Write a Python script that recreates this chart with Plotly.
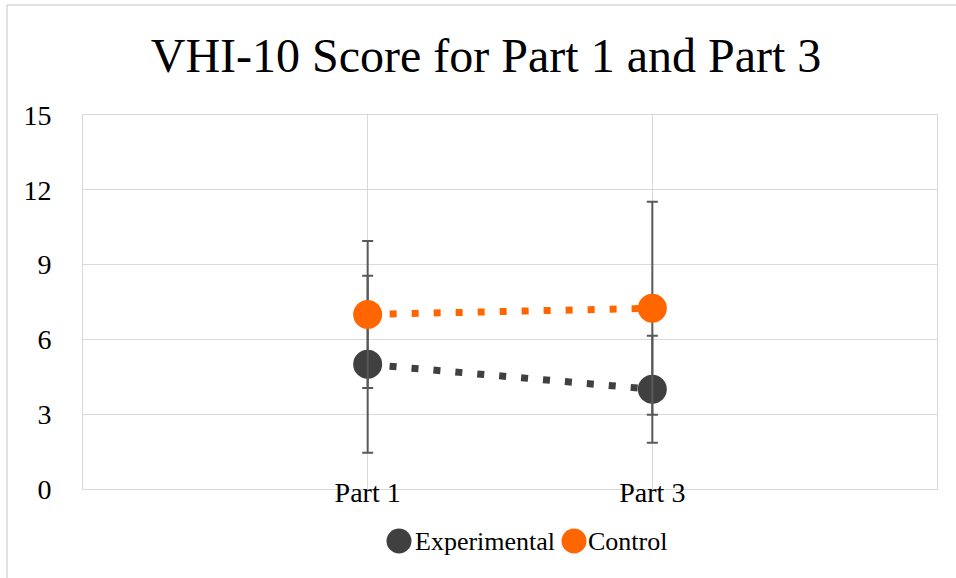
import plotly.graph_objects as go

# ---- data ----
categories = ["Part 1", "Part 3"]
experimental = [5.0, 4.0]
experimental_sd = [3.55, 2.15]
control = [7.0, 7.25]
control_sd = [2.95, 4.27]
y_ticks = [0, 3, 6, 9, 12, 15]
series_names = ["Experimental", "Control"]

DARK = "#404040"
ORANGE = "#FF6600"
ERR = "#595959"
GRID = "#D9D9D9"
FONT = "Liberation Serif"

fig = go.Figure()

for name, vals, sd, col in [
    (series_names[0], experimental, experimental_sd, DARK),
    (series_names[1], control, control_sd, ORANGE),
]:
    fig.add_trace(go.Scatter(
        x=categories, y=vals, name=name, mode="lines+markers",
        line=dict(color=col, width=7, dash="7px,15px"),
        marker=dict(color=col, size=29),
        error_y=dict(type="data", array=sd, visible=True, color=ERR,
                     thickness=2, width=5.5),
        showlegend=False, hoverinfo="skip",
    ))

W, H = 956, 578
L, R, T, B = 83, 19, 115, 89
pw, ph = W - L - R, H - T - B

def px(x):
    return (x - L) / pw

def py(y):
    return (H - B - y) / ph

shapes = [
    dict(type="line", xref="paper", yref="paper", x0=px(7), x1=px(7), y0=py(5), y1=py(H + 2),
         line=dict(color=GRID, width=1.5)),
    dict(type="line", xref="paper", yref="paper", x0=px(7), x1=px(W + 2), y0=py(5), y1=py(5),
         line=dict(color=GRID, width=1.5)),
]
annotations = []
legend_items = [(series_names[0], DARK, 399, 413), (series_names[1], ORANGE, 574, 586)]
for name, col, cx, tx in legend_items:
    shapes.append(dict(type="circle", xref="paper", yref="paper",
                       xsizemode="pixel", ysizemode="pixel",
                       xanchor=px(cx), yanchor=py(541),
                       x0=-12.5, x1=12.5, y0=-12.5, y1=12.5,
                       fillcolor=col, line=dict(width=0)))
    annotations.append(dict(text=name, xref="paper", yref="paper", x=px(tx), y=py(541),
                            xanchor="left", yanchor="middle", showarrow=False,
                            font=dict(family=FONT, size=26, color="#000000")))

fig.update_layout(
    width=W, height=H,
    margin=dict(l=L, r=R, t=T, b=B),
    paper_bgcolor="white", plot_bgcolor="white",
    title=dict(text="VHI-10 Score for Part 1 and Part 3", x=486 / W, xanchor="center",
               y=1 - 55 / H, yanchor="middle", yref="container",
               font=dict(family=FONT, size=48, color="#000000")),
    font=dict(family=FONT, color="#000000"),
    shapes=shapes, annotations=annotations,
    xaxis=dict(type="category", categoryorder="array", categoryarray=categories,
               range=[-1, 2], showgrid=True, gridcolor=GRID, gridwidth=1,
               showline=True, linecolor=GRID, linewidth=1, mirror=True,
               ticks="", tickfont=dict(family=FONT, size=28, color="#000000"),
               ticklabelstandoff=-22, zeroline=False),
    yaxis=dict(range=[0, 15], tickvals=y_ticks, showgrid=True, gridcolor=GRID, gridwidth=1,
               showline=True, linecolor=GRID, linewidth=1, mirror=True,
               ticks="", tickfont=dict(family=FONT, size=28, color="#000000"),
               ticklabelstandoff=25, zeroline=False),
)

fig.write_html("out.html", config={"displayModeBar": False},
               post_script="document.body.style.margin='0';document.body.style.padding='0';")
